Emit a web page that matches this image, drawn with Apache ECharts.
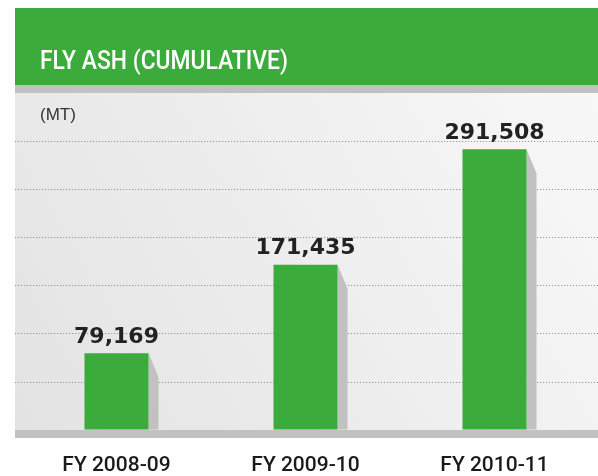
<!DOCTYPE html>
<html>
<head>
<meta charset="utf-8">
<style>
  html, body { margin: 0; padding: 0; background: #ffffff; }
  #chart { width: 598px; height: 476px; }
</style>
<script src="https://cdn.jsdelivr.net/npm/echarts@6/dist/echarts.min.js"></script>
</head>
<body>
<div id="chart"></div>
<script>
// Fly ash utilisation, cumulative, in metric tonnes
const categories = ['FY 2008-09', 'FY 2009-10', 'FY 2010-11'];
const values = [79169, 171435, 291508];
const axisMax = 300000;
const axisStep = 50000;

const GREEN = '#3bab3b';
const GREY = '#c1c1c1';
const BAR_W = 64;

const chart = echarts.init(document.getElementById('chart'), null, { renderer: 'canvas' });

chart.setOption({
  animation: false,
  backgroundColor: '#ffffff',
  grid: [
    // full-width grid that carries the dotted guide lines
    { left: 15, right: 0, top: 141, bottom: 46 },
    // grid holding the bars
    { left: 22, right: 9, top: 141, bottom: 46 }
  ],
  xAxis: [
    { type: 'category', gridIndex: 0, data: categories, show: false },
    {
      type: 'category', gridIndex: 1, data: categories,
      axisLine: { show: false }, axisTick: { show: false },
      axisLabel: {
        margin: 36, verticalAlign: 'middle',
        color: '#1a1a1a', fontSize: 21, fontWeight: 500, fontFamily: 'Roboto'
      }
    }
  ],
  yAxis: [
    {
      type: 'value', gridIndex: 0, min: 0, max: axisMax, interval: axisStep,
      axisLine: { show: false }, axisTick: { show: false }, axisLabel: { show: false },
      splitLine: { lineStyle: { color: '#959595', width: 1, type: [1.2, 1.8] } }
    },
    {
      type: 'value', gridIndex: 1, min: 0, max: axisMax, interval: axisStep,
      show: false, splitLine: { show: false }
    }
  ],
  graphic: [
    // plot backdrop
    {
      type: 'rect', z: -100, silent: true,
      shape: { x: 15, y: 92, width: 583, height: 338 },
      style: {
        fill: new echarts.graphic.LinearGradient(0, 1, 1, 0, [
          { offset: 0, color: '#e3e3e3' },
          { offset: 1, color: '#f8f8f8' }
        ])
      }
    },
    // header band
    { type: 'rect', z: 100, silent: true, shape: { x: 15, y: 8, width: 583, height: 77 }, style: { fill: GREEN } },
    { type: 'rect', z: 100, silent: true, shape: { x: 15, y: 85, width: 583, height: 8 }, style: { fill: GREY } },
    {
      type: 'text', z: 101, silent: true, x: 40, y: 49, scaleX: 0.88,
      style: {
        text: 'FLY ASH (CUMULATIVE)', fill: '#ffffff', verticalAlign: 'top',
        font: '500 26px "Roboto", sans-serif'
      }
    },
    {
      type: 'text', z: 101, silent: true, x: 40, y: 107,
      style: { text: '(MT)', fill: '#333333', verticalAlign: 'top', font: '17px "Liberation Sans", sans-serif' }
    },
    // base strip under the bars
    { type: 'rect', z: 100, silent: true, shape: { x: 15, y: 430, width: 583, height: 8 }, style: { fill: GREY } }
  ],
  series: [
    {
      // slanted drop shadow on the right of each bar
      type: 'custom', xAxisIndex: 1, yAxisIndex: 1, z: 1, silent: true,
      data: values.map((v, i) => [i, v]),
      renderItem: function (params, api) {
        const top = api.coord([api.value(0), api.value(1)]);
        const base = api.coord([api.value(0), 0]);
        const x0 = top[0] + BAR_W / 2;
        return {
          type: 'polygon',
          shape: { points: [[x0, top[1]], [x0 + 10, top[1] + 24], [x0 + 10, base[1]], [x0, base[1]]] },
          style: { fill: GREY }
        };
      }
    },
    {
      type: 'bar', xAxisIndex: 1, yAxisIndex: 1, z: 2,
      data: values, barWidth: BAR_W,
      itemStyle: { color: GREEN },
      label: {
        show: true, position: 'top', distance: 5,
        color: '#222222', fontSize: 22, fontWeight: 'bold', fontFamily: 'DejaVu Sans',
        formatter: p => p.value.toLocaleString('en-US')
      }
    }
  ]
});
</script>
</body>
</html>
